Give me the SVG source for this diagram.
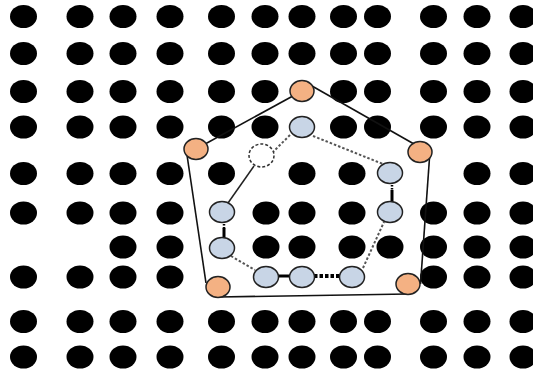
<svg xmlns="http://www.w3.org/2000/svg" width="533" height="371" viewBox="0 0 533 371">
<defs>
<style>
.dot{fill:#000}
.orange{fill:#F4B183;stroke:#222;stroke-width:1.5}
.blue{fill:#C8D5E6;stroke:#222;stroke-width:1.5}
.ghost{fill:#fff;stroke:#333;stroke-width:1.5;stroke-dasharray:3 2}
.edge{stroke:#111;stroke-width:1.6;fill:none}
.dotted{stroke:#555;stroke-width:2;stroke-dasharray:2.5 2;fill:none}
.thin{stroke:#222;stroke-width:1.5;fill:none}
.thickdash{stroke:#000;stroke-width:4;stroke-dasharray:3.5 2;fill:none}
.thick{stroke:#000;stroke-width:3;fill:none}
.vdash{stroke:#000;stroke-width:2.5;stroke-dasharray:1.5 1.5;fill:none}
</style>
</defs>
<rect width="533" height="371" fill="#fff"/>
<g id="grid">
<g id="row1">
<ellipse class="dot" cx="23.5" cy="16.5" rx="13.5" ry="11.5"/><ellipse class="dot" cx="80" cy="16.5" rx="13.5" ry="11.5"/><ellipse class="dot" cx="123" cy="16.5" rx="13.5" ry="11.5"/><ellipse class="dot" cx="170" cy="16.5" rx="13.5" ry="11.5"/><ellipse class="dot" cx="221.5" cy="16.5" rx="13.5" ry="11.5"/><ellipse class="dot" cx="265" cy="16.5" rx="13.5" ry="11.5"/><ellipse class="dot" cx="302" cy="16.5" rx="13.5" ry="11.5"/><ellipse class="dot" cx="343.5" cy="16.5" rx="13.5" ry="11.5"/><ellipse class="dot" cx="377.5" cy="16.5" rx="13.5" ry="11.5"/><ellipse class="dot" cx="433.5" cy="16.5" rx="13.5" ry="11.5"/><ellipse class="dot" cx="477" cy="16.5" rx="13.5" ry="11.5"/><ellipse class="dot" cx="523" cy="16.5" rx="13.5" ry="11.5"/>
</g>
<g id="row2">
<ellipse class="dot" cx="23.5" cy="53.5" rx="13.5" ry="11.5"/><ellipse class="dot" cx="80" cy="53.5" rx="13.5" ry="11.5"/><ellipse class="dot" cx="123" cy="53.5" rx="13.5" ry="11.5"/><ellipse class="dot" cx="170" cy="53.5" rx="13.5" ry="11.5"/><ellipse class="dot" cx="221.5" cy="53.5" rx="13.5" ry="11.5"/><ellipse class="dot" cx="265" cy="53.5" rx="13.5" ry="11.5"/><ellipse class="dot" cx="302" cy="53.5" rx="13.5" ry="11.5"/><ellipse class="dot" cx="343.5" cy="53.5" rx="13.5" ry="11.5"/><ellipse class="dot" cx="377.5" cy="53.5" rx="13.5" ry="11.5"/><ellipse class="dot" cx="433.5" cy="53.5" rx="13.5" ry="11.5"/><ellipse class="dot" cx="477" cy="53.5" rx="13.5" ry="11.5"/><ellipse class="dot" cx="523" cy="53.5" rx="13.5" ry="11.5"/>
</g>
<g id="row3">
<ellipse class="dot" cx="23.5" cy="91.5" rx="13.5" ry="11.5"/><ellipse class="dot" cx="80" cy="91.5" rx="13.5" ry="11.5"/><ellipse class="dot" cx="123" cy="91.5" rx="13.5" ry="11.5"/><ellipse class="dot" cx="170" cy="91.5" rx="13.5" ry="11.5"/><ellipse class="dot" cx="221.5" cy="91.5" rx="13.5" ry="11.5"/><ellipse class="dot" cx="265" cy="91.5" rx="13.5" ry="11.5"/><ellipse class="dot" cx="343.5" cy="91.5" rx="13.5" ry="11.5"/><ellipse class="dot" cx="377.5" cy="91.5" rx="13.5" ry="11.5"/><ellipse class="dot" cx="433.5" cy="91.5" rx="13.5" ry="11.5"/><ellipse class="dot" cx="477" cy="91.5" rx="13.5" ry="11.5"/><ellipse class="dot" cx="523" cy="91.5" rx="13.5" ry="11.5"/>
</g>
<g id="row4">
<ellipse class="dot" cx="23.5" cy="127" rx="13.5" ry="11.5"/><ellipse class="dot" cx="80" cy="127" rx="13.5" ry="11.5"/><ellipse class="dot" cx="123" cy="127" rx="13.5" ry="11.5"/><ellipse class="dot" cx="170" cy="127" rx="13.5" ry="11.5"/><ellipse class="dot" cx="221.5" cy="127" rx="13.5" ry="11.5"/><ellipse class="dot" cx="265" cy="127" rx="13.5" ry="11.5"/><ellipse class="dot" cx="343.5" cy="127" rx="13.5" ry="11.5"/><ellipse class="dot" cx="377.5" cy="127" rx="13.5" ry="11.5"/><ellipse class="dot" cx="433.5" cy="127" rx="13.5" ry="11.5"/><ellipse class="dot" cx="477" cy="127" rx="13.5" ry="11.5"/><ellipse class="dot" cx="523" cy="127" rx="13.5" ry="11.5"/>
</g>
<g id="row5">
<ellipse class="dot" cx="23.5" cy="173.5" rx="13.5" ry="11.5"/><ellipse class="dot" cx="80" cy="173.5" rx="13.5" ry="11.5"/><ellipse class="dot" cx="123" cy="173.5" rx="13.5" ry="11.5"/><ellipse class="dot" cx="170" cy="173.5" rx="13.5" ry="11.5"/><ellipse class="dot" cx="221.5" cy="173.5" rx="13.5" ry="11.5"/><ellipse class="dot" cx="302" cy="173.5" rx="13.5" ry="11.5"/><ellipse class="dot" cx="352" cy="173.5" rx="13.5" ry="11.5"/><ellipse class="dot" cx="477" cy="173.5" rx="13.5" ry="11.5"/><ellipse class="dot" cx="523" cy="173.5" rx="13.5" ry="11.5"/>
</g>
<g id="row6">
<ellipse class="dot" cx="23.5" cy="213" rx="13.5" ry="11.5"/><ellipse class="dot" cx="80" cy="213" rx="13.5" ry="11.5"/><ellipse class="dot" cx="123" cy="213" rx="13.5" ry="11.5"/><ellipse class="dot" cx="170" cy="213" rx="13.5" ry="11.5"/><ellipse class="dot" cx="266" cy="213" rx="13.5" ry="11.5"/><ellipse class="dot" cx="302" cy="213" rx="13.5" ry="11.5"/><ellipse class="dot" cx="352" cy="213" rx="13.5" ry="11.5"/><ellipse class="dot" cx="433.5" cy="213" rx="13.5" ry="11.5"/><ellipse class="dot" cx="477" cy="213" rx="13.5" ry="11.5"/><ellipse class="dot" cx="523" cy="213" rx="13.5" ry="11.5"/>
</g>
<g id="row7">
<ellipse class="dot" cx="123" cy="247" rx="13.5" ry="11.5"/><ellipse class="dot" cx="170" cy="247" rx="13.5" ry="11.5"/><ellipse class="dot" cx="266" cy="247" rx="13.5" ry="11.5"/><ellipse class="dot" cx="302" cy="247" rx="13.5" ry="11.5"/><ellipse class="dot" cx="352" cy="247" rx="13.5" ry="11.5"/><ellipse class="dot" cx="390" cy="247" rx="13.5" ry="11.5"/><ellipse class="dot" cx="433.5" cy="247" rx="13.5" ry="11.5"/><ellipse class="dot" cx="477" cy="247" rx="13.5" ry="11.5"/><ellipse class="dot" cx="523" cy="247" rx="13.5" ry="11.5"/>
</g>
<g id="row8">
<ellipse class="dot" cx="23.5" cy="277" rx="13.5" ry="11.5"/><ellipse class="dot" cx="80" cy="277" rx="13.5" ry="11.5"/><ellipse class="dot" cx="123" cy="277" rx="13.5" ry="11.5"/><ellipse class="dot" cx="170" cy="277" rx="13.5" ry="11.5"/><ellipse class="dot" cx="433.5" cy="277" rx="13.5" ry="11.5"/><ellipse class="dot" cx="477" cy="277" rx="13.5" ry="11.5"/><ellipse class="dot" cx="523" cy="277" rx="13.5" ry="11.5"/>
</g>
<g id="row9">
<ellipse class="dot" cx="23.5" cy="321.5" rx="13.5" ry="11.5"/><ellipse class="dot" cx="80" cy="321.5" rx="13.5" ry="11.5"/><ellipse class="dot" cx="123" cy="321.5" rx="13.5" ry="11.5"/><ellipse class="dot" cx="170" cy="321.5" rx="13.5" ry="11.5"/><ellipse class="dot" cx="221.5" cy="321.5" rx="13.5" ry="11.5"/><ellipse class="dot" cx="265" cy="321.5" rx="13.5" ry="11.5"/><ellipse class="dot" cx="302" cy="321.5" rx="13.5" ry="11.5"/><ellipse class="dot" cx="343.5" cy="321.5" rx="13.5" ry="11.5"/><ellipse class="dot" cx="377.5" cy="321.5" rx="13.5" ry="11.5"/><ellipse class="dot" cx="433.5" cy="321.5" rx="13.5" ry="11.5"/><ellipse class="dot" cx="477" cy="321.5" rx="13.5" ry="11.5"/><ellipse class="dot" cx="523" cy="321.5" rx="13.5" ry="11.5"/>
</g>
<g id="row10">
<ellipse class="dot" cx="23.5" cy="357" rx="13.5" ry="11.5"/><ellipse class="dot" cx="80" cy="357" rx="13.5" ry="11.5"/><ellipse class="dot" cx="123" cy="357" rx="13.5" ry="11.5"/><ellipse class="dot" cx="170" cy="357" rx="13.5" ry="11.5"/><ellipse class="dot" cx="221.5" cy="357" rx="13.5" ry="11.5"/><ellipse class="dot" cx="265" cy="357" rx="13.5" ry="11.5"/><ellipse class="dot" cx="302" cy="357" rx="13.5" ry="11.5"/><ellipse class="dot" cx="343.5" cy="357" rx="13.5" ry="11.5"/><ellipse class="dot" cx="377.5" cy="357" rx="13.5" ry="11.5"/><ellipse class="dot" cx="433.5" cy="357" rx="13.5" ry="11.5"/><ellipse class="dot" cx="477" cy="357" rx="13.5" ry="11.5"/><ellipse class="dot" cx="523" cy="357" rx="13.5" ry="11.5"/>
</g>
</g>
<g id="connectors">
<line class="edge" x1="196" y1="149" x2="302" y2="91"/>
<line class="edge" x1="312" y1="86" x2="414" y2="144"/>
<line class="edge" x1="429.5" y1="158" x2="420.5" y2="284"/>
<line class="edge" x1="218" y1="297" x2="408" y2="294"/>
<line class="edge" x1="187" y1="155" x2="206" y2="283"/>
<line class="dotted" x1="290" y1="135" x2="273" y2="152"/>
<line class="thin" x1="254" y1="166" x2="228" y2="203"/>
<line class="vdash" x1="224" y1="221" x2="224" y2="229"/>
<line class="thick" x1="224" y1="228" x2="224" y2="238"/>
<line class="dotted" x1="231" y1="256" x2="255" y2="270"/>
<line class="thick" x1="277" y1="276" x2="291" y2="276"/>
<line class="thickdash" x1="314" y1="276" x2="341" y2="276"/>
<line class="dotted" x1="363" y1="268" x2="384" y2="222"/>
<line class="vdash" x1="392" y1="182" x2="392" y2="191"/>
<line class="thick" x1="392" y1="190" x2="392" y2="203"/>
<line class="dotted" x1="313" y1="136" x2="383" y2="164"/>
</g>
<g id="o1"><ellipse class="orange" cx="302" cy="91" rx="12" ry="10.5"/></g>
<g id="o2"><ellipse class="orange" cx="420" cy="152" rx="12" ry="10.5"/></g>
<g id="o3"><ellipse class="orange" cx="408" cy="284" rx="12" ry="10.5"/></g>
<g id="o4"><ellipse class="orange" cx="218" cy="287" rx="12" ry="10.5"/></g>
<g id="o5"><ellipse class="orange" cx="196" cy="149" rx="12" ry="10.5"/></g>
<g id="b1"><ellipse class="blue" cx="302" cy="127" rx="12.5" ry="10.5"/></g>
<g id="b2"><ellipse class="blue" cx="390" cy="173" rx="12.5" ry="10.5"/></g>
<g id="b3"><ellipse class="blue" cx="390" cy="212" rx="12.5" ry="10.5"/></g>
<g id="b4"><ellipse class="blue" cx="352" cy="277" rx="12.5" ry="10.5"/></g>
<g id="b5"><ellipse class="blue" cx="302" cy="277" rx="12.5" ry="10.5"/></g>
<g id="b6"><ellipse class="blue" cx="266" cy="277" rx="12.5" ry="10.5"/></g>
<g id="b7"><ellipse class="blue" cx="222" cy="248" rx="12.5" ry="10.5"/></g>
<g id="b8"><ellipse class="blue" cx="222" cy="212" rx="12.5" ry="10.5"/></g>
<g id="ghost"><ellipse class="ghost" cx="261.5" cy="155.5" rx="12.5" ry="11.5"/></g>
</svg>
